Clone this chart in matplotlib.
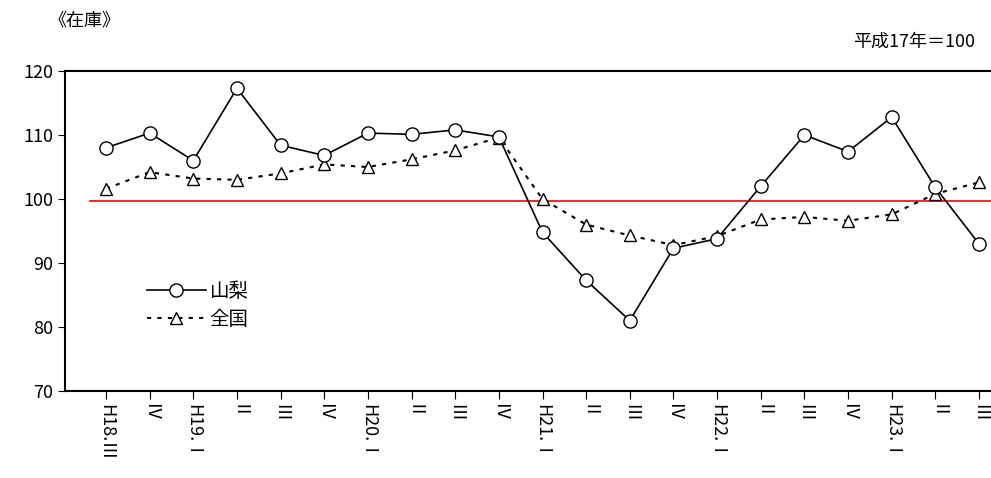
import matplotlib
matplotlib.use("Agg")
import matplotlib.pyplot as plt
from matplotlib.lines import Line2D

plt.rcParams['font.family'] = ['Noto Sans CJK JP', 'DejaVu Sans']

labels = ["H18.Ⅲ","Ⅳ","H19.Ⅰ","Ⅱ","Ⅲ","Ⅳ","H20.Ⅰ","Ⅱ","Ⅲ","Ⅳ","H21.Ⅰ","Ⅱ","Ⅲ","Ⅳ","H22.Ⅰ","Ⅱ","Ⅲ","Ⅳ","H23.Ⅰ","Ⅱ","Ⅲ"]
yamanashi = [108,110.3,106,117.3,108.4,106.8,110.3,110.1,110.8,109.7,94.8,87.3,81,92.3,93.8,102,110,107.4,112.8,101.8,93]
zenkoku = [101.6,104.2,103.2,103,104,105.4,105,106.2,107.6,109.6,100,96,94.3,92.8,94.2,96.8,97.2,96.6,97.6,100.8,102.6]
base = 99.7

W, H = 991, 478
fig = plt.figure(figsize=(W/100, H/100), dpi=100)
ax = fig.add_axes([65/W, 1-391/H, 926/W, 320/H])
x = list(range(len(labels)))
ax.set_xlim(-41/43.65, 20 + 12/43.65)
ax.set_ylim(70, 120)
ax.axhline(base, xmin=25/926, xmax=1, color='red', lw=1.2)
ax.plot(x, zenkoku, color='black', ls=(0, (2, 3)), lw=1.5, marker='^', ms=9, mfc='white', mec='black', zorder=3)
ax.plot(x, yamanashi, '-', color='black', lw=1.2, marker='o', ms=9.5, mfc='white', mec='black', zorder=4)
ax.set_yticks(range(70, 121, 10))
ax.set_xticks(x)
ax.set_xticklabels(labels, rotation=-90, fontsize=13, va='top')
ax.tick_params(axis='y', labelsize=13, direction='out', length=5)
ax.tick_params(axis='x', direction='out', length=6)
ax.spines['right'].set_visible(False)
for s in ['left','bottom','top']:
    ax.spines[s].set_linewidth(1.5)
handles = [Line2D([], [], color='black', lw=1.2, marker='o', ms=9.5, mfc='white'),
           Line2D([], [], color='black', ls=(0, (2, 3)), lw=1.5, marker='^', ms=9, mfc='white')]
ax.legend(handles, ['山梨', '全国'], loc='upper left', bbox_to_anchor=(0.07, 0.4), frameon=False,
          fontsize=14, handlelength=3, labelspacing=0.4, handletextpad=0.2)
fig.text(48/W, 1-20/H, '《在庫》', fontsize=13, va='center')
fig.text(975/W, 1-42/H, '平成17年＝100', fontsize=13, va='center', ha='right')
fig.savefig('out.png', dpi=100)
